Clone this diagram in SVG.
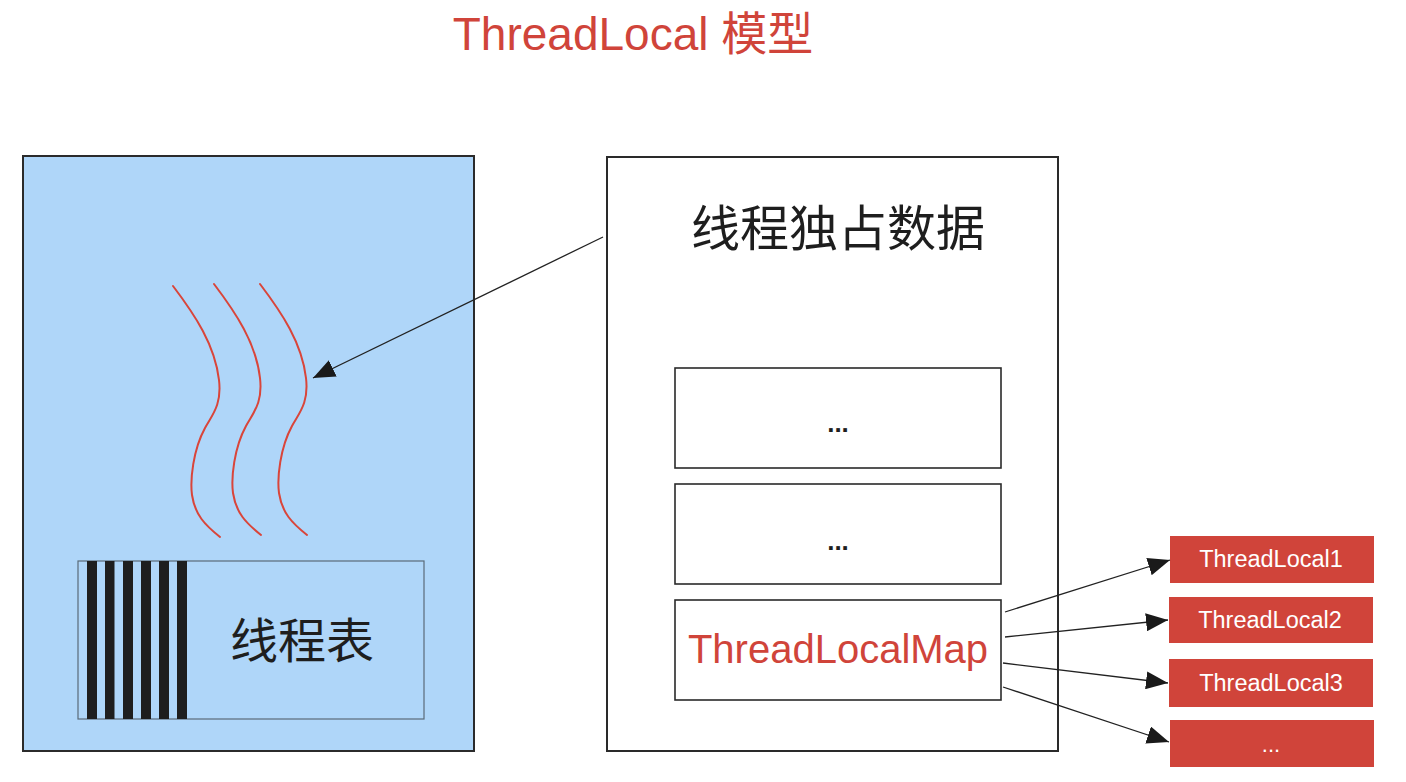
<svg xmlns="http://www.w3.org/2000/svg" width="1406" height="782" viewBox="0 0 1406 782">
<style>
.t{font-family:"Liberation Sans","Noto Sans CJK SC",Arial,sans-serif;text-anchor:middle}
.cjk{font-family:"Noto Sans CJK SC","Liberation Sans",sans-serif;text-anchor:middle;fill:#1e1e1e}
.dots{font-weight:bold;fill:#1e1e1e}
.box{fill:#fff;stroke:#2a2a2a;stroke-width:1.6}
.wave{fill:none;stroke:#d9453a;stroke-width:2;stroke-linecap:round}
.bar{fill:#1e1e1e}
.red{fill:#d0443a}
.conn{fill:none;stroke:#222;stroke-width:1.3}
</style>
<defs>
<marker id="ah" markerUnits="userSpaceOnUse" markerWidth="24" markerHeight="18" refX="22" refY="9" orient="auto">
<path d="M0,0 L22,9 L0,18 Z" fill="#1a1a1a"/>
</marker>
</defs>
<rect width="1406" height="782" fill="#fff"/>
<text id="title" class="t" x="633" y="50" font-size="46" fill="#d0443a">ThreadLocal 模型</text>

<g id="thread-side">
<rect x="23" y="156" width="451" height="595" fill="#afd6f9" stroke="#2b2b2b" stroke-width="2"/>
<g id="threads">
<path class="wave" d="M173,286 C195,315 215,345 219,380 C222,405 212,415 205,428 C193,450 190,480 192,495 C195,515 205,525 220,537"/>
<path class="wave" d="M214,284 C236,313 256,343 260,378 C263,403 253,413 246,426 C234,448 231,478 233,493 C236,513 246,523 261,535"/>
<path class="wave" d="M260,284 C282,313 302,343 306,378 C309,403 299,413 292,426 C280,448 277,478 279,493 C282,513 292,523 307,535"/>
</g>
<g id="thread-table">
<rect x="78" y="561" width="346" height="158" fill="none" stroke="#5a6a78" stroke-width="1.2"/>
<rect class="bar" x="87" y="561" width="10" height="158"/>
<rect class="bar" x="105" y="561" width="9.5" height="158"/>
<rect class="bar" x="123" y="561" width="10" height="158"/>
<rect class="bar" x="141" y="561" width="10" height="158"/>
<rect class="bar" x="159" y="561" width="10" height="158"/>
<rect class="bar" x="177" y="561" width="10" height="158"/>
<text class="cjk" x="302" y="658" font-size="48">线程表</text>
</g>
</g>

<g id="data-box">
<rect x="607" y="157" width="451" height="594" fill="#fff" stroke="#2a2a2a" stroke-width="2"/>
<text class="cjk" x="838" y="246" font-size="49">线程独占数据</text>
</g>
<g id="slot1">
<rect class="box" x="675" y="368" width="326" height="100"/>
<text class="t dots" x="838" y="432" font-size="26">...</text>
</g>
<g id="slot2">
<rect class="box" x="675" y="484" width="326" height="100"/>
<text class="t dots" x="838" y="550" font-size="26">...</text>
</g>
<g id="threadlocalmap">
<rect class="box" x="675" y="600" width="326" height="100"/>
<text class="t" x="838" y="663" font-size="40" fill="#d0443a">ThreadLocalMap</text>
</g>

<g id="tl1">
<rect class="red" x="1170" y="536" width="204" height="47"/>
<text class="t" x="1271" y="567" font-size="23.5" fill="#fff">ThreadLocal1</text>
</g>
<g id="tl2">
<rect class="red" x="1169" y="597" width="204" height="46"/>
<text class="t" x="1270" y="628" font-size="23.5" fill="#fff">ThreadLocal2</text>
</g>
<g id="tl3">
<rect class="red" x="1169" y="659" width="204" height="48"/>
<text class="t" x="1271" y="691" font-size="23.5" fill="#fff">ThreadLocal3</text>
</g>
<g id="tl4">
<rect class="red" x="1170" y="720" width="204" height="47"/>
<text class="t" x="1271" y="752" font-size="22" fill="#fff">...</text>
</g>

<g id="connectors">
<line class="conn" x1="603" y1="237" x2="313" y2="378" marker-end="url(#ah)"/>
<line class="conn" x1="1005" y1="612" x2="1170" y2="560" marker-end="url(#ah)"/>
<line class="conn" x1="1005" y1="637" x2="1168" y2="620" marker-end="url(#ah)"/>
<line class="conn" x1="1003" y1="663" x2="1168" y2="683" marker-end="url(#ah)"/>
<line class="conn" x1="1003" y1="687" x2="1169" y2="742" marker-end="url(#ah)"/>
</g>
</svg>
